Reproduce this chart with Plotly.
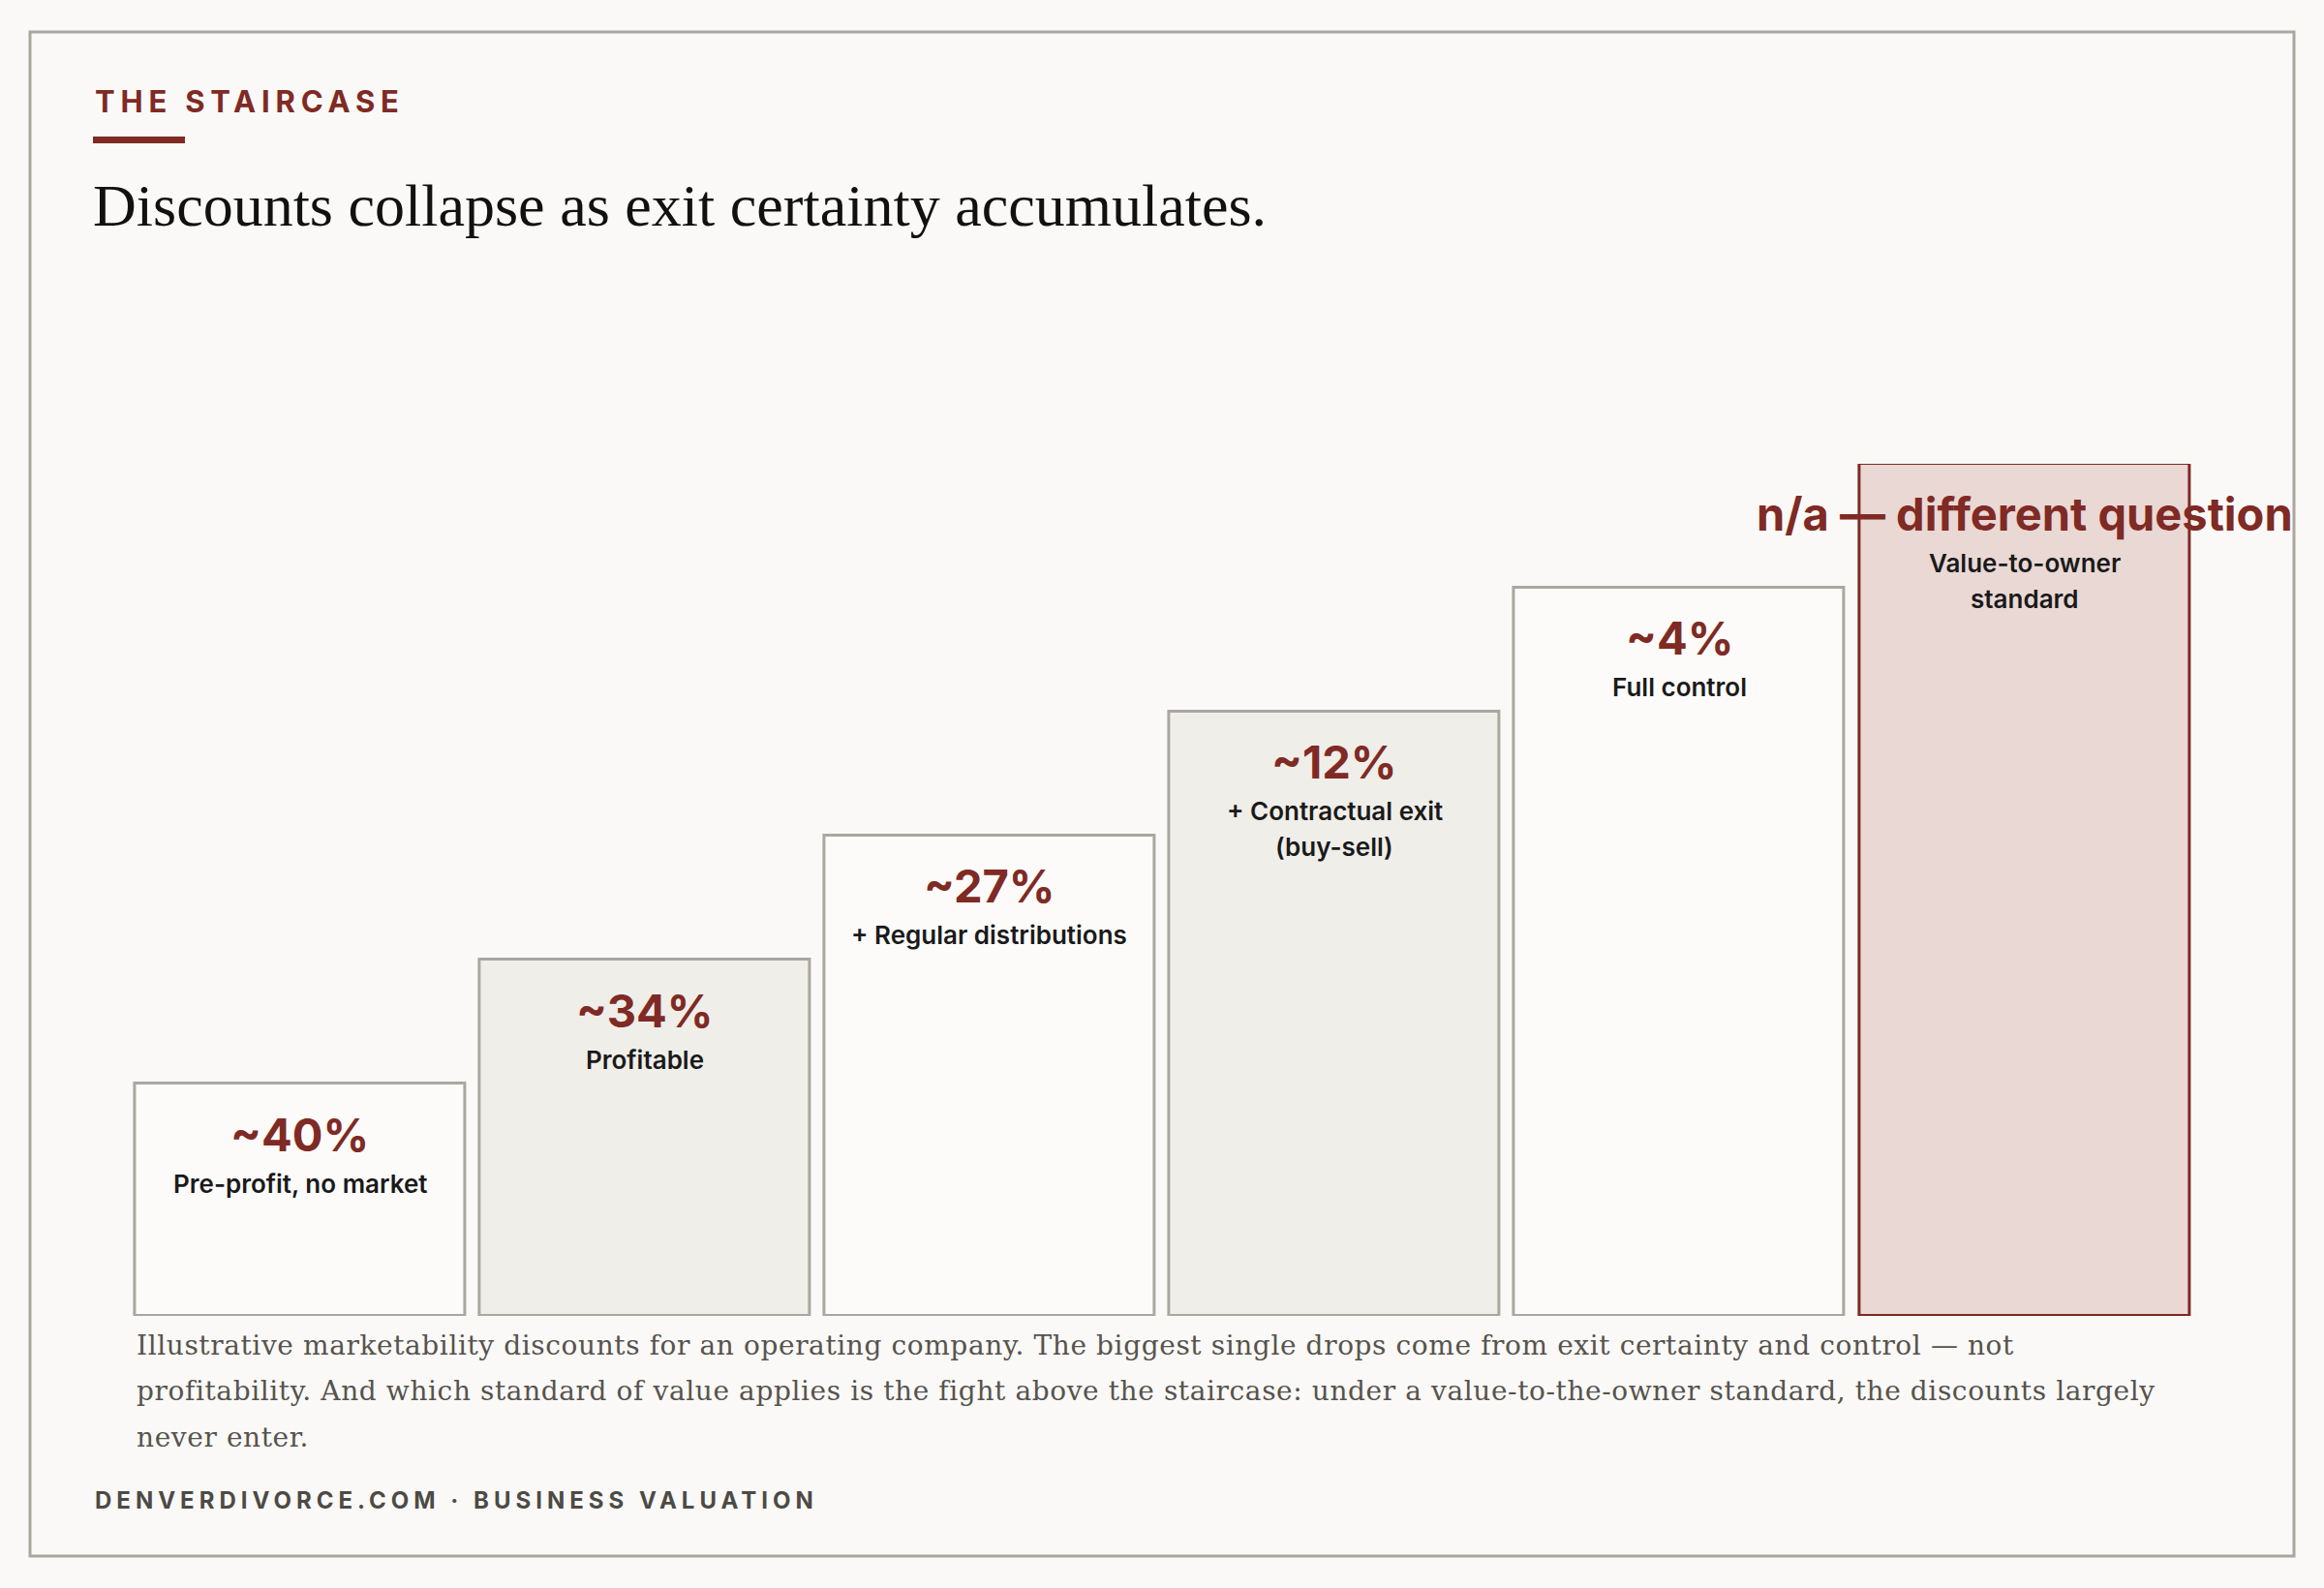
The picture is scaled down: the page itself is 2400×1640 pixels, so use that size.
import plotly.graph_objects as go

# ---------------- data ----------------
discount_labels = ["~40%", "~34%", "~27%", "~12%", "~4%", "n/a — different question"]
step_labels = [
    ["Pre-profit, no market"],
    ["Profitable"],
    ["+ Regular distributions"],
    ["+ Contractual exit", "(buy-sell)"],
    ["Full control"],
    ["Value-to-owner", "standard"],
]
step_heights = [30, 46, 62, 78, 94, 110]   # staircase levels (illustrative units)
caption_lines = [
    "Illustrative marketability discounts for an operating company. The biggest single drops come from exit certainty and control — not",
    "profitability. And which standard of value applies is the fight above the staircase: under a value-to-the-owner standard, the discounts largely",
    "never enter.",
]
kicker = "THE STAIRCASE"
title = "Discounts collapse as exit certainty accumulates."
footer = "DENVERDIVORCE.COM · BUSINESS VALUATION"

# ---------------- styles ----------------
W, H = 2400, 1640
BG = "#faf9f7"
RED = "#7f2a24"
GRAY_LINE = "#aaa79f"
fills = ["#fcfbfa", "#f0eee9", "#fcfbfa", "#f0eee9", "#fcfbfa", "#ead8d5"]
outlines = [GRAY_LINE] * 5 + [RED]

def px_x(p):
    return p / W

def px_y(p):
    return 1 - p / H

xs = list(range(len(step_heights)))

fig = go.Figure()
fig.add_trace(go.Bar(
    x=xs, y=step_heights, width=0.957,
    marker=dict(color=fills, line=dict(color=outlines, width=3)),
    hoverinfo="skip",
))

ann = []
SANS = "Inter, Roboto, sans-serif"
for i, (lab, h) in enumerate(zip(discount_labels, step_heights)):
    ann.append(dict(x=i, y=h, xref="x", yref="y", text=lab, showarrow=False,
                    xanchor="center", yanchor="middle", yshift=-52,
                    font=dict(family=SANS, size=47, color=RED, weight=700)))
    for j, line in enumerate(step_labels[i]):
        ann.append(dict(x=i, y=h, xref="x", yref="y", text=line, showarrow=False,
                        xanchor="center", yanchor="middle", yshift=-(103 + 37 * j),
                        font=dict(family=SANS, size=26, color="#1a1a1a", weight=600)))

ann.append(dict(x=px_x(96), y=px_y(104), xref="paper", yref="paper",
                text=f'<span style="letter-spacing:5.8px">{kicker}</span>',
                showarrow=False, xanchor="left", yanchor="middle",
                font=dict(family="Inter, sans-serif", size=31, color=RED, weight=700)))
ann.append(dict(x=px_x(94), y=px_y(212), xref="paper", yref="paper", text=title,
                showarrow=False, xanchor="left", yanchor="middle",
                font=dict(family="Liberation Serif, serif", size=62, color="#111111")))
for k, line in enumerate(caption_lines):
    ann.append(dict(x=px_x(139), y=px_y(1389 + 47.5 * k), xref="paper", yref="paper",
                    text=f'<span style="letter-spacing:0.6px">{line}</span>',
                    showarrow=False, xanchor="left", yanchor="middle",
                    font=dict(family="DejaVu Serif, serif", size=28, color="#57534d")))
ann.append(dict(x=px_x(96), y=px_y(1549), xref="paper", yref="paper",
                text=f'<span style="letter-spacing:5px">{footer}</span>',
                showarrow=False, xanchor="left", yanchor="middle",
                font=dict(family="Inter, sans-serif", size=24, color="#4d4a45", weight=700)))

shapes = [
    dict(type="rect", xref="paper", yref="paper", x0=px_x(31), x1=px_x(2369),
         y0=px_y(1607), y1=px_y(33), line=dict(color=GRAY_LINE, width=3),
         fillcolor="rgba(0,0,0,0)", layer="below"),
    dict(type="rect", xref="paper", yref="paper", x0=px_x(96), x1=px_x(191),
         y0=px_y(148), y1=px_y(141), line=dict(width=0), fillcolor=RED),
]

fig.update_layout(
    width=W, height=H, margin=dict(l=0, r=0, t=0, b=0),
    paper_bgcolor=BG, plot_bgcolor="rgba(0,0,0,0)",
    showlegend=False, annotations=ann, shapes=shapes,
    xaxis=dict(domain=[131.4 / W, 2268.6 / W], range=[-0.5, 5.5], visible=False, fixedrange=True),
    yaxis=dict(domain=[px_y(1359), px_y(479)], range=[0, 110], visible=False, fixedrange=True),
    bargap=0,
)

fig.write_html("out.html", config={"displayModeBar": False},
               post_script="document.body.style.margin='0';document.body.style.background='%s';" % BG)
